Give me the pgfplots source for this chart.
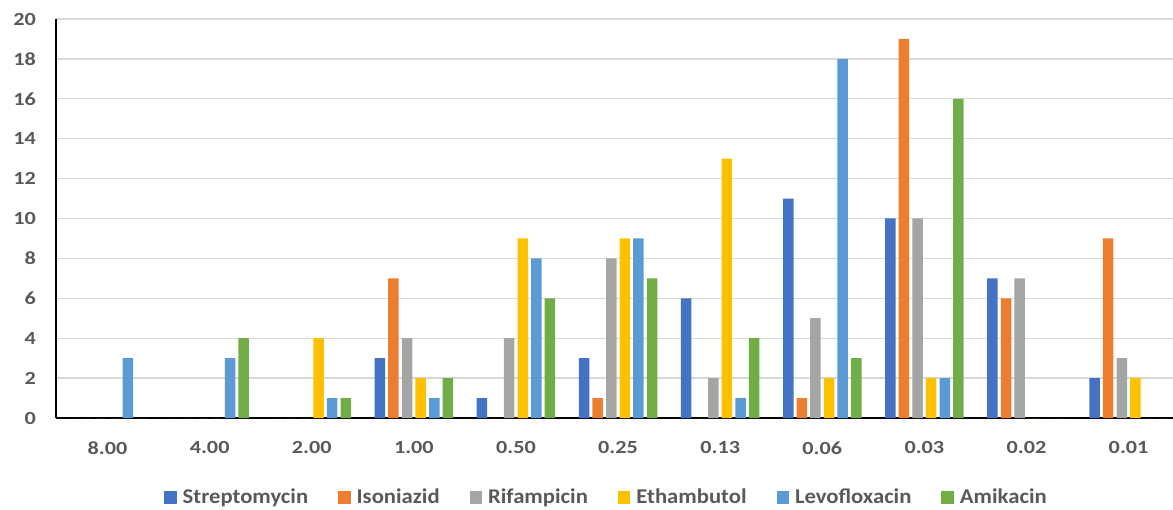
\documentclass[border=0pt]{standalone}
\usepackage{pgfplots}
\usepackage{pgfplotstable}
\pgfplotsset{compat=1.18}
\usepackage{fontspec}
\setmainfont{Carlito}
\newfontfamily\tickfont{Carlito}[FakeStretch=1.2]
\newfontfamily\legfont{Carlito}[FakeStretch=1.08]

\definecolor{cStrep}{HTML}{4472C4}
\definecolor{cIso}{HTML}{ED7D31}
\definecolor{cRif}{HTML}{A5A5A5}
\definecolor{cEth}{HTML}{FFC000}
\definecolor{cLevo}{HTML}{5B9BD5}
\definecolor{cAmi}{HTML}{70AD47}
\definecolor{txtgray}{HTML}{595959}
\definecolor{gridgray}{HTML}{D9D9D9}

% MIC (ug/mL) categories, counts of isolates per drug
\pgfplotstableread{
idx strep iso rif eth levo ami
0   0     0   0   0   3    0
1   0     0   0   0   3    4
2   0     0   0   4   1    1
3   3     7   4   2   1    2
4   1     0   4   9   8    6
5   3     1   8   9   9    7
6   6     0   2   13  1    4
7   11    1   5   2   18   3
8   10    19  10  2   2    16
9   7     6   7   0   0    0
10  2     9   3   2   0    0
}\mic

\begin{document}
\begin{tikzpicture}
\useasboundingbox (0,0) rectangle (1173pt,509pt);
\begin{axis}[
  at={(56.5pt,91pt)}, anchor=south west,
  scale only axis,
  width=1116.5pt, height=399pt,
  xmin=-0.5, xmax=10.435,
  ymin=0, ymax=20,
  ytick={0,2,...,20},
  xtick={0,...,10},
  xticklabels={8.00,4.00,2.00,1.00,0.50,0.25,0.13,0.06,0.03,0.02,0.01},
  major tick length=0pt,
  axis x line*=bottom, axis y line*=left,
  axis line style={black, line width=2pt, -},
  ymajorgrids, grid style={gridgray, line width=1.3pt},
  xticklabel style={font=\tickfont\fontsize{18.5}{20}\bfseries, text=txtgray, inner sep=0pt, anchor=north, yshift=-23.5pt},
  yticklabel style={font=\tickfont\fontsize{18.5}{20}\bfseries, text=txtgray, inner sep=0pt, anchor=east, xshift=-20.5pt},
  /pgf/number format/assume math mode=true,
  ybar, bar width=10.5pt,
  legend columns=-1,
  legend image code/.code={\path[#1,draw=none] (0pt,-6.5pt) rectangle (12.5pt,6pt);},
  legend style={at={(0.0963,-0.198)}, anchor=west, draw=none, fill=none, inner sep=0pt,
    font=\legfont\fontsize{21}{22}\bfseries, text=txtgray,
    /tikz/every even column/.append style={column sep=24pt},
    /tikz/every odd column/.append style={column sep=0pt},
    nodes={inner xsep=6pt, inner ysep=0pt}},
]
\addplot[fill=cStrep, draw=none, bar shift=-34pt] table[x=idx,y=strep]{\mic};
\addplot[fill=cIso,   draw=none, bar shift=-20.4pt] table[x=idx,y=iso]{\mic};
\addplot[fill=cRif,   draw=none, bar shift=-6.8pt] table[x=idx,y=rif]{\mic};
\addplot[fill=cEth,   draw=none, bar shift=6.8pt] table[x=idx,y=eth]{\mic};
\addplot[fill=cLevo,  draw=none, bar shift=20.4pt] table[x=idx,y=levo]{\mic};
\addplot[fill=cAmi,   draw=none, bar shift=34pt] table[x=idx,y=ami]{\mic};
\legend{Streptomycin,Isoniazid,Rifampicin,Ethambutol,Levofloxacin,Amikacin}
\end{axis}
\end{tikzpicture}
\end{document}
